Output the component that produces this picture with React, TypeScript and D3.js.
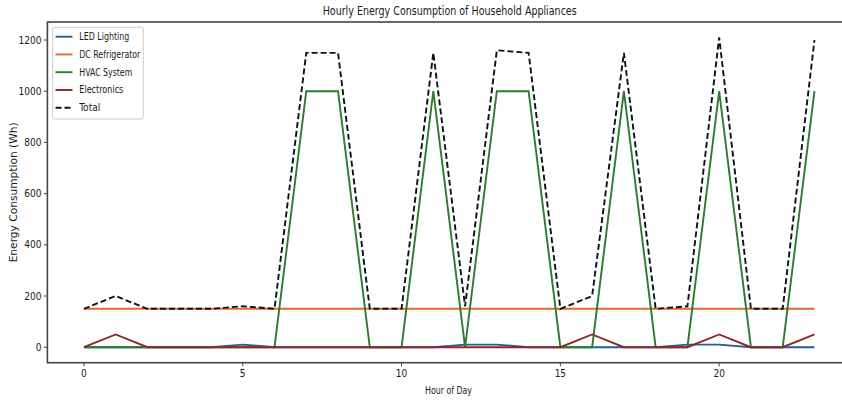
import React from "react";
import * as d3 from "d3";

const hours = d3.range(0, 24);
const ledLighting = [0,0,0,0,0,10,0,0,0,0,0,0,10,10,0,0,0,0,0,10,10,0,0,0];
const dcRefrigerator = [150,150,150,150,150,150,150,150,150,150,150,150,150,150,150,150,150,150,150,150,150,150,150,150];
const hvacSystem = [0,0,0,0,0,0,0,1000,1000,0,0,1000,0,1000,1000,0,0,1000,0,0,1000,0,0,1000];
const electronics = [0,50,0,0,0,0,0,0,0,0,0,0,0,0,0,0,50,0,0,0,50,0,0,50];
const total = hours.map((h) => ledLighting[h] + dcRefrigerator[h] + hvacSystem[h] + electronics[h]);
const yTicks = [0, 200, 400, 600, 800, 1000, 1200];
const xTicks = [0, 5, 10, 15, 20];

const series = [
  { name: "LED Lighting", values: ledLighting, color: "#2b5d8e", dash: "", w: 50 },
  { name: "DC Refrigerator", values: dcRefrigerator, color: "#e4692f", dash: "", w: 61 },
  { name: "HVAC System", values: hvacSystem, color: "#2e7a2e", dash: "", w: 53 },
  { name: "Electronics", values: electronics, color: "#8a2a2a", dash: "", w: 44 },
  { name: "Total", values: total, color: "#111111", dash: "6,3", w: 21 },
];

const FONT = "'Liberation Sans Narrow', 'DejaVu Sans Condensed', 'Roboto Condensed', sans-serif";

export default function App() {
  const W = 842, H = 401;
  const left = 47.4, right = 851, top = 22, bottom = 362.7;
  const x = d3.scaleLinear().domain([-1.15, 24.15]).range([left, right]);
  const y = d3.scaleLinear().domain([-60.5, 1270.5]).range([bottom, top]);
  const line = d3.line<number>().x((_, i) => x(hours[i])).y((v) => y(v));

  return (
    <svg width={W} height={H} style={{ position: "absolute", left: 0, top: 0, background: "#fff" }} fontFamily={FONT}>
      <rect x={0} y={0} width={W} height={H} fill="#fff" />
      <text x={449.7} y={15} textAnchor="middle" fontSize={12.5} fill="#1a1a1a" textLength={254} lengthAdjust="spacingAndGlyphs">
        Hourly Energy Consumption of Household Appliances
      </text>
      {series.map((s) => (
        <path key={s.name} d={line(s.values) || ""} fill="none" stroke={s.color} strokeWidth={1.9}
          strokeDasharray={s.dash || undefined} strokeLinejoin="miter" />
      ))}
      <rect x={left} y={top} width={right - left} height={bottom - top} fill="none" stroke="#444" strokeWidth={1.6} />
      {yTicks.map((t) => (
        <g key={t}>
          <line x1={left - 3.5} x2={left} y1={y(t)} y2={y(t)} stroke="#444" strokeWidth={1} />
          <text x={left - 6} y={y(t) + 3.5} textAnchor="end" fontSize={10} fill="#1a1a1a">{t}</text>
        </g>
      ))}
      {xTicks.map((t) => (
        <g key={t}>
          <line x1={x(t)} x2={x(t)} y1={bottom} y2={bottom + 3.5} stroke="#444" strokeWidth={1} />
          <text x={x(t)} y={bottom + 14} textAnchor="middle" fontSize={10} fill="#1a1a1a">{t}</text>
        </g>
      ))}
      <text x={448.5} y={394} textAnchor="middle" fontSize={10.5} fill="#1a1a1a" textLength={47} lengthAdjust="spacingAndGlyphs">Hour of Day</text>
      <text transform={`translate(17,${(top + bottom) / 2}) rotate(-90)`} textAnchor="middle" fontSize={10.5} fill="#1a1a1a"
        textLength={140} lengthAdjust="spacingAndGlyphs">
        Energy Consumption (Wh)
      </text>
      <rect x={52.7} y={27.3} width={90.6} height={91.7} rx={2} fill="#fff" fillOpacity={0.8} stroke="#ccc" strokeWidth={1} />
      {series.map((s, i) => {
        const ly = 36.7 + i * 17.75;
        return (
          <g key={s.name}>
            <line x1={55.5} x2={72.5} y1={ly} y2={ly} stroke={s.color} strokeWidth={1.9} strokeDasharray={s.dash || undefined} />
            <text x={79.3} y={ly + 3.5} fontSize={10.5} fill="#1a1a1a" textLength={s.w} lengthAdjust="spacingAndGlyphs">{s.name}</text>
          </g>
        );
      })}
    </svg>
  );
}
